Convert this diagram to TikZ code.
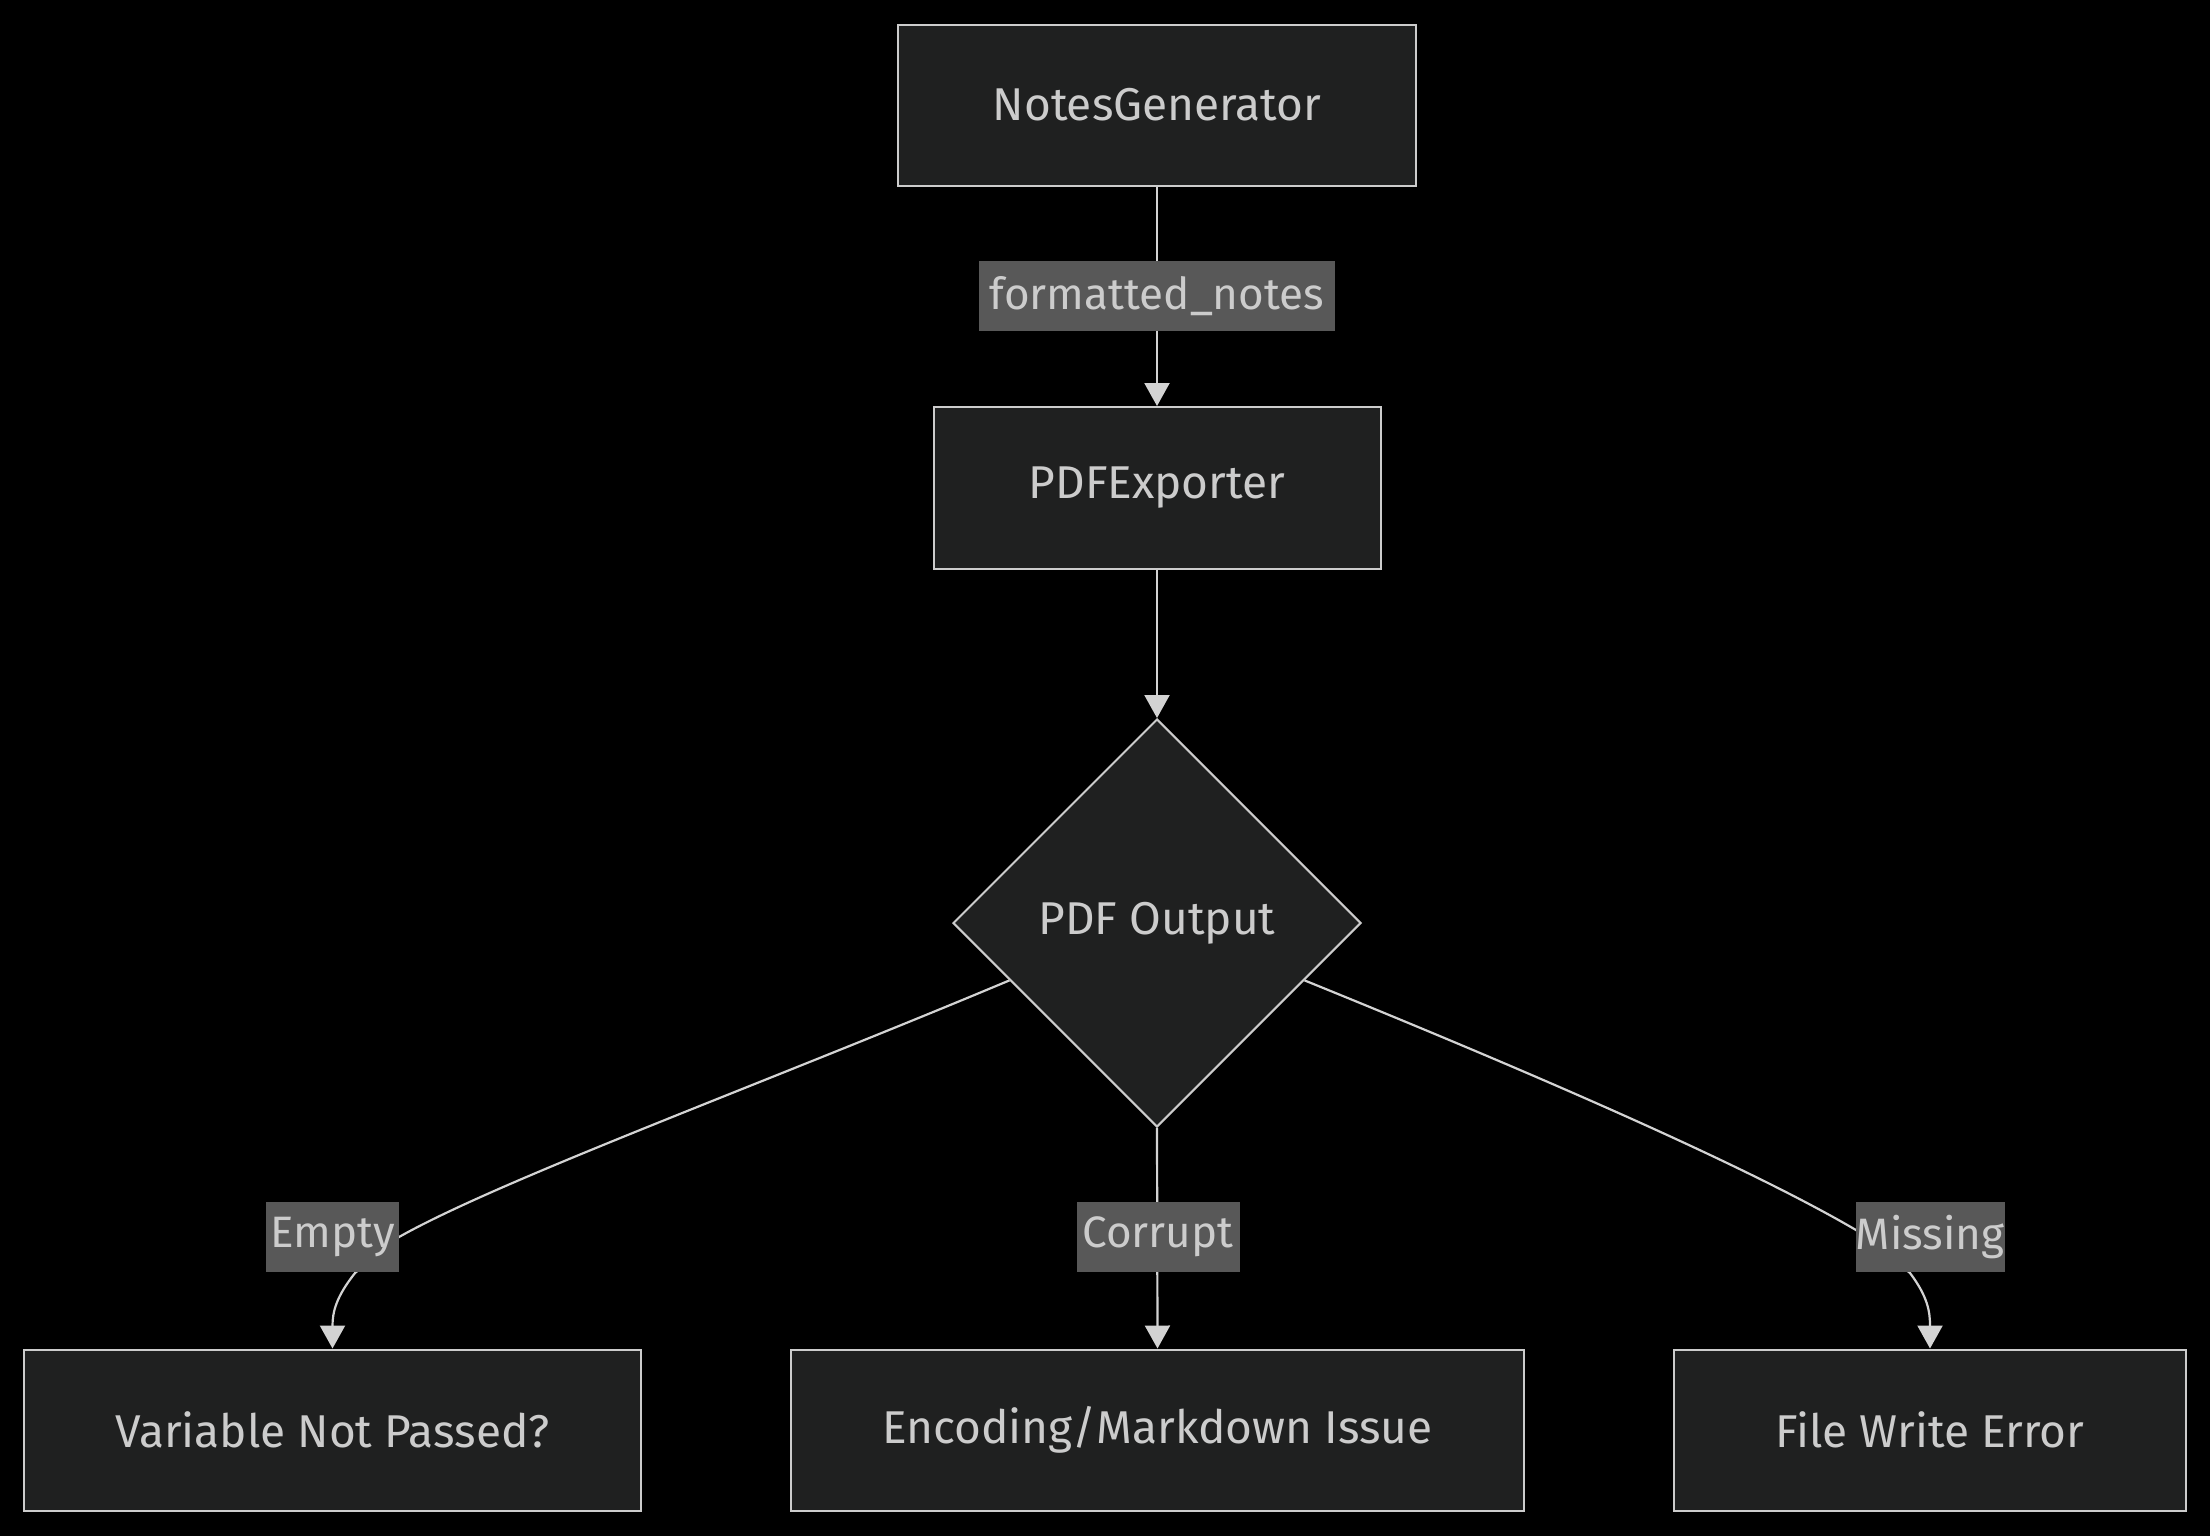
\documentclass[tikz,border=0pt]{standalone}
\usepackage{fontspec}
\setmainfont{Fira Sans}
\usetikzlibrary{arrows.meta,shapes.geometric,calc}
\definecolor{bgc}{HTML}{000000}
\definecolor{boxfill}{HTML}{1F2020}
\definecolor{boxline}{HTML}{CCCCCC}
\definecolor{txt}{HTML}{CCCCCC}
\definecolor{lblfill}{HTML}{585858}
\definecolor{edgec}{HTML}{D3D3D3}
\tikzset{
  procbox/.style={draw=boxline, fill=boxfill, line width=2pt, inner sep=0pt,
    text=txt, font=\fontsize{46}{55}\selectfont, anchor=center},
  decbox/.style={diamond, aspect=1, draw=boxline, fill=boxfill, line width=2pt,
    inner sep=0pt, minimum width=408pt, minimum height=408pt, text=txt,
    font=\fontsize{46}{55}\selectfont},
  elabel/.style={fill=lblfill, inner sep=0pt, minimum height=70pt, text=txt,
    font=\fontsize{44}{55}\selectfont},
  edge/.style={draw=edgec, line width=2.2pt, -{Triangle[width=25pt,length=23pt]}},
  plain/.style={draw=edgec, line width=2pt}
}
\begin{document}
\begin{tikzpicture}[x=1pt,y=-1pt]
\useasboundingbox (0,0) rectangle (2210,1535);
\fill[bgc] (-10,-10) rectangle (2220,1545);

\node[procbox, minimum width=518pt, minimum height=161pt] (ng) at (1157,105) {NotesGenerator};
\node[procbox, minimum width=447pt, minimum height=162pt] (pe) at (1157,488) {PDFExporter};
\node[decbox] (dia) at (1157,923) {PDF Output};
\node[procbox, minimum width=617pt, minimum height=161pt] (vnp) at (332.5,1430) {Variable Not Passed?};
\node[procbox, minimum width=733pt, minimum height=161pt] (enc) at (1157.5,1430) {Encoding/Markdown Issue};
\node[procbox, minimum width=512pt, minimum height=161pt] (fwe) at (1930,1430) {File Write Error};

\coordinate (d1) at ($(dia.west)!0.28!(dia.south)$);
\coordinate (d2) at ($(dia.east)!0.28!(dia.south)$);
\coordinate (e1) at (399,1237);
\coordinate (e2) at (355,1273);
\coordinate (m1) at (1856,1230);
\coordinate (m2) at (1910,1273);

\draw[edge] (ng.south) -- (pe.north);
\draw[edge] (pe.south) -- (dia.north);
\draw[edge] (dia.south) -- (enc.north);
\draw[edge] (d1) .. controls (760,1085) and (500,1180) .. (e1) -- (e2)
  .. controls (336,1297) and (332.5,1312) .. (vnp.north);
\draw[edge] (d2) .. controls (1550,1080) and (1750,1168) .. (m1) -- (m2)
  .. controls (1928,1297) and (1930,1312) .. (fwe.north);

\node[elabel, minimum width=356pt] (lf) at (1157,296) {formatted\_notes};
\node[elabel, minimum width=133pt] (le) at (332.5,1237) {Empty};
\node[elabel, minimum width=163pt] (lc) at (1158,1237) {Corrupt};
\node[elabel, minimum width=149pt] (lm) at (1930,1237) {Missing};
\end{tikzpicture}
\end{document}
